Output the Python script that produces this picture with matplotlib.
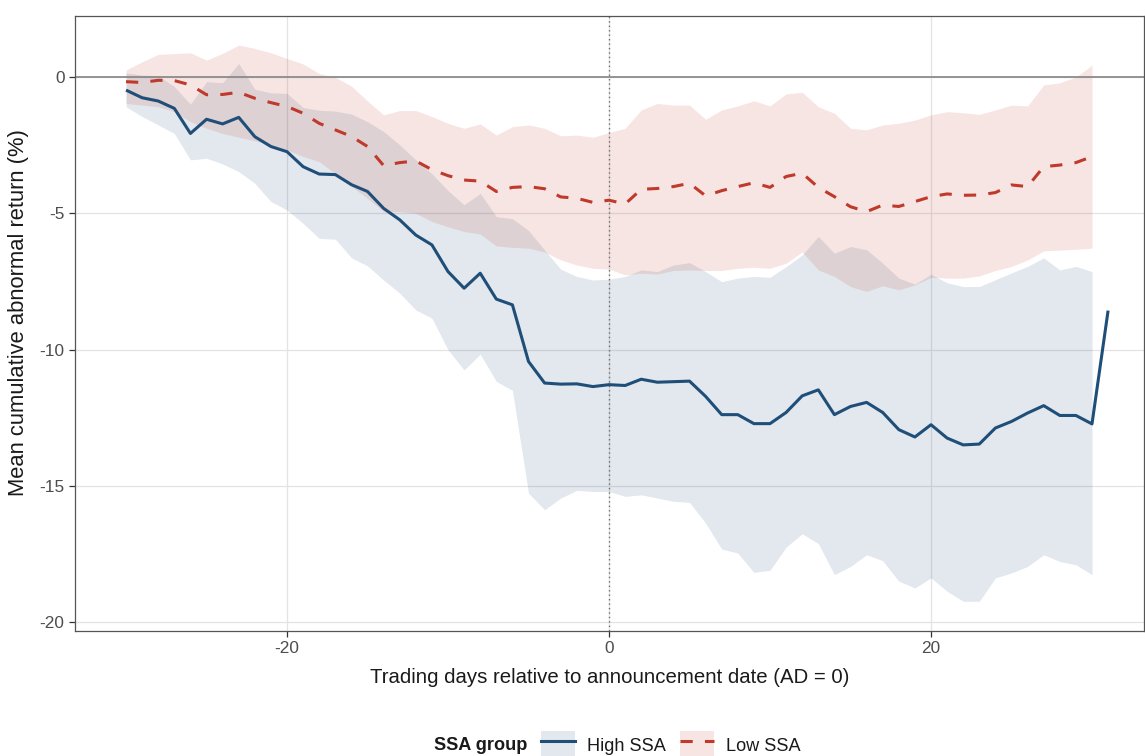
import numpy as np
import matplotlib
matplotlib.use("Agg")
import matplotlib.pyplot as plt
from matplotlib.patches import Patch
from matplotlib.lines import Line2D

# ---------------- data ----------------
days_line = list(range(-30, 32))      # High SSA line goes to day 31
days_band = list(range(-30, 31))      # ribbons and Low SSA line to day 30

high_mean = [-0.48, -0.76, -0.88, -1.15, -2.07, -1.55, -1.72, -1.48, -2.19, -2.55,
             -2.74, -3.29, -3.56, -3.58, -3.95, -4.20, -4.82, -5.24, -5.80, -6.16,
             -7.14, -7.75, -7.20, -8.15, -8.36, -10.44, -11.23, -11.27, -11.26, -11.36,
             -11.29, -11.32, -11.09, -11.20, -11.18, -11.16, -11.72, -12.39, -12.39, -12.72,
             -12.72, -12.31, -11.70, -11.48, -12.39, -12.09, -11.94, -12.31, -12.94, -13.21,
             -12.76, -13.25, -13.50, -13.47, -12.88, -12.64, -12.33, -12.06, -12.42, -12.42,
             -12.73, -8.57]
high_lower = [-1.09, -1.45, -1.76, -2.07, -3.04, -2.98, -3.19, -3.47, -3.90, -4.57,
              -4.88, -5.37, -5.92, -5.95, -6.63, -6.93, -7.45, -7.93, -8.55, -8.85,
              -10.01, -10.75, -10.17, -11.17, -11.50, -15.27, -15.88, -15.45, -15.17, -15.21,
              -15.21, -15.39, -15.33, -15.45, -15.57, -15.61, -16.37, -17.32, -17.47, -18.18,
              -18.10, -17.25, -16.76, -17.12, -18.26, -17.96, -17.53, -17.75, -18.50, -18.75,
              -18.38, -18.87, -19.24, -19.24, -18.38, -18.20, -17.96, -17.53, -17.78, -17.90,
              -18.26]
high_upper = [0.15, 0.07, 0.05, -0.35, -1.00, -0.17, -0.21, 0.50, -0.45, -0.58,
              -0.60, -1.12, -1.22, -1.25, -1.36, -1.64, -2.00, -2.49, -3.04, -3.55,
              -4.17, -4.69, -4.27, -5.12, -5.20, -5.63, -6.35, -7.05, -7.32, -7.45,
              -7.42, -7.32, -7.08, -7.14, -6.90, -6.81, -7.14, -7.51, -7.38, -7.32,
              -7.35, -6.96, -6.53, -5.85, -6.47, -6.22, -6.34, -6.83, -7.38, -7.60,
              -7.24, -7.55, -7.69, -7.69, -7.44, -7.19, -6.95, -6.64, -7.08, -6.95,
              -7.14]

low_mean = [-0.17, -0.20, -0.12, -0.13, -0.29, -0.65, -0.64, -0.56, -0.78, -0.94,
            -1.08, -1.33, -1.70, -1.94, -2.18, -2.55, -3.25, -3.14, -3.08, -3.40,
            -3.62, -3.78, -3.82, -4.20, -4.05, -4.02, -4.10, -4.40, -4.45, -4.60,
            -4.52, -4.66, -4.12, -4.09, -4.02, -3.90, -4.36, -4.17, -4.02, -3.88,
            -4.05, -3.65, -3.53, -4.05, -4.39, -4.76, -4.94, -4.70, -4.75, -4.57,
            -4.39, -4.29, -4.34, -4.33, -4.24, -3.96, -4.02, -3.29, -3.23, -3.14,
            -2.92]
low_lower = [-0.97, -1.03, -1.09, -1.27, -1.64, -1.88, -2.07, -2.21, -2.34, -2.49,
             -2.68, -2.92, -3.10, -3.55, -4.02, -4.45, -4.94, -4.94, -5.00, -5.30,
             -5.50, -5.67, -5.76, -6.20, -6.25, -6.28, -6.42, -6.71, -6.90, -7.02,
             -7.05, -7.26, -7.20, -7.23, -7.10, -7.08, -7.10, -7.10, -7.02, -6.98,
             -7.02, -6.83, -6.42, -7.08, -7.32, -7.69, -7.87, -7.66, -7.81, -7.63,
             -7.35, -7.38, -7.38, -7.30, -7.10, -6.95, -6.71, -6.38, -6.35, -6.32,
             -6.28]
low_upper = [0.26, 0.56, 0.83, 0.86, 0.89, 0.62, 0.87, 1.17, 1.05, 0.89,
             0.68, 0.48, 0.13, -0.01, -0.33, -0.88, -1.39, -1.23, -1.23, -1.45,
             -1.70, -1.88, -1.72, -2.13, -1.82, -1.76, -1.88, -2.16, -2.13, -2.21,
             -2.04, -1.88, -1.21, -0.97, -1.03, -1.03, -1.55, -1.21, -1.06, -0.87,
             -1.06, -0.62, -0.56, -1.09, -1.33, -1.88, -1.94, -1.76, -1.70, -1.58,
             -1.39, -1.27, -1.31, -1.37, -1.21, -1.03, -1.06, -0.29, -0.21, 0.00,
             0.44]

x_ticks = [-20, 0, 20]
y_ticks = [0, -5, -10, -15, -20]
group_labels = ["High SSA", "Low SSA"]

# ---------------- style ----------------
plt.rcParams['font.family'] = ['Liberation Sans', 'DejaVu Sans']
plt.rcParams['axes.unicode_minus'] = False

blue = "#1F4E79"
red = "#C0392B"
band_alpha = 0.13

fig = plt.figure(figsize=(11.45, 7.56), dpi=100)
ax = fig.add_axes([75 / 1145, (756 - 631) / 756, 1069 / 1145, 615 / 756])

ax.set_xlim(-33.17, 33.23)
ax.set_ylim(-20.33, 2.24)

# grid
ax.set_axisbelow(True)
ax.grid(True, color="#e3e3e3", linewidth=0.9, zorder=0)

# ribbons
ax.fill_between(days_band, high_lower, high_upper, color=blue, alpha=band_alpha,
                linewidth=0, zorder=1)
ax.fill_between(days_band, low_lower, low_upper, color=red, alpha=band_alpha,
                linewidth=0, zorder=1.1)

# reference lines
ax.axhline(0, color="#8c8c8c", linewidth=1.3, zorder=1.5)
ax.axvline(0, color="#6e6e6e", linewidth=1.0, linestyle=(0, (1, 2.2)), zorder=1.6)

# mean lines
ax.plot(days_line, high_mean, color=blue, linewidth=2.2, zorder=3,
        solid_joinstyle="round", solid_capstyle="butt")
ax.plot(days_band, low_mean, color=red, linewidth=2.2, zorder=3,
        dashes=(4, 4), dash_capstyle="butt")

# axes styling
ax.set_xticks(x_ticks)
ax.set_xticklabels([str(v) for v in x_ticks])
ax.set_yticks(y_ticks)
ax.set_yticklabels([str(v) for v in y_ticks])
ax.tick_params(axis="both", direction="out", length=4.5, width=0.9,
               color="#333333", labelsize=12.4, labelcolor="#4d4d4d", pad=3)
for s in ax.spines.values():
    s.set_color("#555555")
    s.set_linewidth(0.9)

ax.set_xlabel("Trading days relative to announcement date (AD = 0)",
              fontsize=14.7, color="#1a1a1a", labelpad=8)
ax.set_ylabel("Mean cumulative abnormal return (%)",
              fontsize=15.8, color="#1a1a1a")
ax.yaxis.set_label_coords(-0.043, (631 - 313) / 615)

# legend
handles = [
    (Patch(facecolor=blue, alpha=band_alpha, edgecolor="none"),
     Line2D([], [], color=blue, linewidth=2.2)),
    (Patch(facecolor=red, alpha=band_alpha, edgecolor="none"),
     Line2D([], [], color=red, linewidth=2.2, dashes=(4, 4))),
]
fig.text(434 / 1145, (756 - 745) / 756, "SSA group", fontsize=13.1,
         fontweight="bold", ha="left", va="center", color="#1a1a1a")
leg = fig.legend(handles, group_labels, loc="center left",
                 bbox_to_anchor=(541 / 1145, (756 - 745) / 756),
                 ncol=2, frameon=False, fontsize=13.1,
                 handlelength=1.85, handleheight=2.0, handletextpad=0.7,
                 columnspacing=0.75, borderpad=0, borderaxespad=0)
for t in leg.get_texts():
    t.set_color("#1a1a1a")

fig.savefig("out.png", dpi=100)
